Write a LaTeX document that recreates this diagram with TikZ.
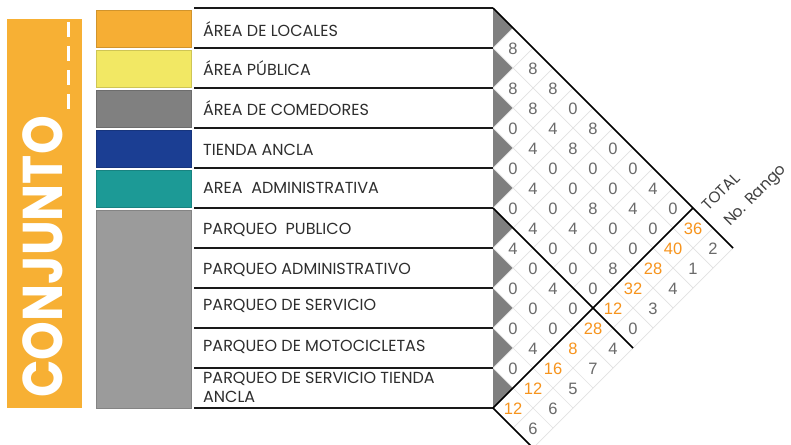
\documentclass[tikz,border=0pt]{standalone}
\usepackage{fontspec}
\setmainfont{Liberation Sans}
\newfontfamily\labelfont{Poppins}
\definecolor{conjorange}{HTML}{F7B034}
\definecolor{boxorange}{HTML}{F6AE34}
\definecolor{boxyellow}{HTML}{F2E864}
\definecolor{boxgray}{HTML}{808080}
\definecolor{boxnavy}{HTML}{1B3E93}
\definecolor{boxteal}{HTML}{1C9A96}
\definecolor{boxlgray}{HTML}{9B9B9B}
\definecolor{trigray}{HTML}{7F7F7F}
\definecolor{gridgray}{HTML}{E2E2E2}
\definecolor{numgray}{HTML}{6A6A6A}
\definecolor{numorange}{HTML}{F7941D}
\definecolor{labeltext}{HTML}{2E2E2E}
\tikzset{
  colorbox/.style={draw=#1!85!black, fill=#1, line width=0.8pt, minimum width=95pt, inner sep=0pt, anchor=north west},
  rowlabel/.style={font=\labelfont\fontsize{16}{19}\selectfont, text=labeltext, inner sep=0pt, anchor=base west, align=left},
  rowrule/.style={line width=1.7pt, draw=black!90},
  diagline/.style={line width=1.5pt, draw=black},
  gridline/.style={line width=0.7pt, draw=gridgray},
  num/.style={font=\fontsize{16.5}{16.5}\selectfont, text=numgray, inner sep=0pt},
  totnum/.style={font=\fontsize{16.5}{16.5}\selectfont, text=numorange, inner sep=0pt},
  headlabel/.style={font=\labelfont\fontsize{15.5}{15.5}\selectfont, text=black!75, inner sep=0pt, rotate=45, anchor=base west},
}
\begin{document}
\begin{tikzpicture}[x=1pt,y=-1pt]
\useasboundingbox (0,0) rectangle (791,444);
\fill[white] (0,0) rectangle (791,444);
\begin{scope}
\clip (0,0) rectangle (791,444);
% CONJUNTO strip
\fill[conjorange] (7,19) rectangle (82,408);
\node[rotate=90, inner sep=0pt, text=white, font=\labelfont\bfseries\fontsize{56}{56}\selectfont] (conj) at (43,257) {\scalebox{0.88}[1]{CONJUNTO}};
\draw[white, line width=3pt, dash pattern=on 15pt off 9pt] (68,22) -- (68,110);
% colour boxes
\node[colorbox=boxorange, minimum height=37pt] (c1) at (96,10) {};
\node[colorbox=boxyellow, minimum height=37pt] (c2) at (96,50) {};
\node[colorbox=boxgray, minimum height=37pt] (c3) at (96,90) {};
\node[colorbox=boxnavy, minimum height=37pt] (c4) at (96,130) {};
\node[colorbox=boxteal, minimum height=37pt] (c5) at (96,170) {};
\node[colorbox=boxlgray, minimum height=198pt] (c6) at (96,210) {};
% row labels
\node[rowlabel] (l1) at (203,37) {ÁREA DE LOCALES};
\node[rowlabel] (l2) at (203,75) {ÁREA PÚBLICA};
\node[rowlabel] (l3) at (203,115) {ÁREA DE COMEDORES};
\node[rowlabel] (l4) at (203,155) {TIENDA ANCLA};
\node[rowlabel] (l5) at (203,193) {AREA\ \ ADMINISTRATIVA};
\node[rowlabel] (l6) at (203,234) {PARQUEO\ \ PUBLICO};
\node[rowlabel] (l7) at (203,274) {PARQUEO ADMINISTRATIVO};
\node[rowlabel] (l8) at (203,310) {PARQUEO DE SERVICIO};
\node[rowlabel] (l9) at (203,351) {PARQUEO DE MOTOCICLETAS};
\node[rowlabel] (l10) at (203,402) {PARQUEO DE SERVICIO TIENDA\\ANCLA};
% gray half-diamonds
\foreach \i in {1,...,10}
  \fill[trigray] (493,{8+40*(\i-1)}) -- (513,{28+40*(\i-1)}) -- (493,{48+40*(\i-1)}) -- cycle;
% light grid
\foreach \k in {0,...,10}
  \draw[gridline] (493,{8+40*\k}) -- ({733-20*\k},{248+20*\k});
\foreach \j in {1,...,10}
  \draw[gridline] (493,{8+40*\j}) -- ({493+20*\j},{8+20*\j});
\draw[gridline] (513,428) -- (713,228);
\draw[gridline] (533,448) -- (733,248);
% horizontal rules
\foreach \k in {0,...,10}
  \draw[rowrule] (194,{8+40*\k}) -- (493,{8+40*\k});
% black diagonals
\draw[diagline] (493,8) -- (733,248);
\draw[diagline] (493,208) -- (633,348);
\draw[diagline] (493,408) -- (533,448);
\draw[diagline] (493,408) -- (693,208);
% matrix values
\foreach \i/\j/\v in {1/2/8,1/3/8,1/4/8,1/5/0,1/6/8,1/7/0,1/8/0,1/9/4,1/10/0,
  2/3/8,2/4/8,2/5/4,2/6/8,2/7/0,2/8/0,2/9/4,2/10/0,
  3/4/0,3/5/4,3/6/0,3/7/0,3/8/8,3/9/0,3/10/0,
  4/5/0,4/6/4,4/7/0,4/8/4,4/9/0,4/10/8,
  5/6/0,5/7/4,5/8/0,5/9/0,5/10/0,
  6/7/4,6/8/0,6/9/4,6/10/0,
  7/8/0,7/9/0,7/10/0,
  8/9/0,8/10/4,
  9/10/0}
  \node[num] (m\i-\j) at ({493+20*(\j-\i)},{29+20*(\i+\j-2)}) {\v};
% totals
\foreach \i/\v in {1/36,2/40,3/28,4/32,5/12,6/28,7/8,8/16,9/12,10/12}
  \node[totnum] (t\i) at ({493+20*(11-\i)},{29+20*(\i+9)}) {\v};
% ranks
\foreach \i/\v in {1/2,2/1,3/4,4/3,5/0,6/4,7/7,8/5,9/6,10/6}
  \node[num] (r\i) at ({493+20*(12-\i)},{29+20*(\i+10)}) {\v};
% headers
\node[headlabel] (htotal) at (708,212) {TOTAL};
\node[headlabel] (hrango) at (730,227) {No. Rango};
\end{scope}
\end{tikzpicture}
\end{document}
